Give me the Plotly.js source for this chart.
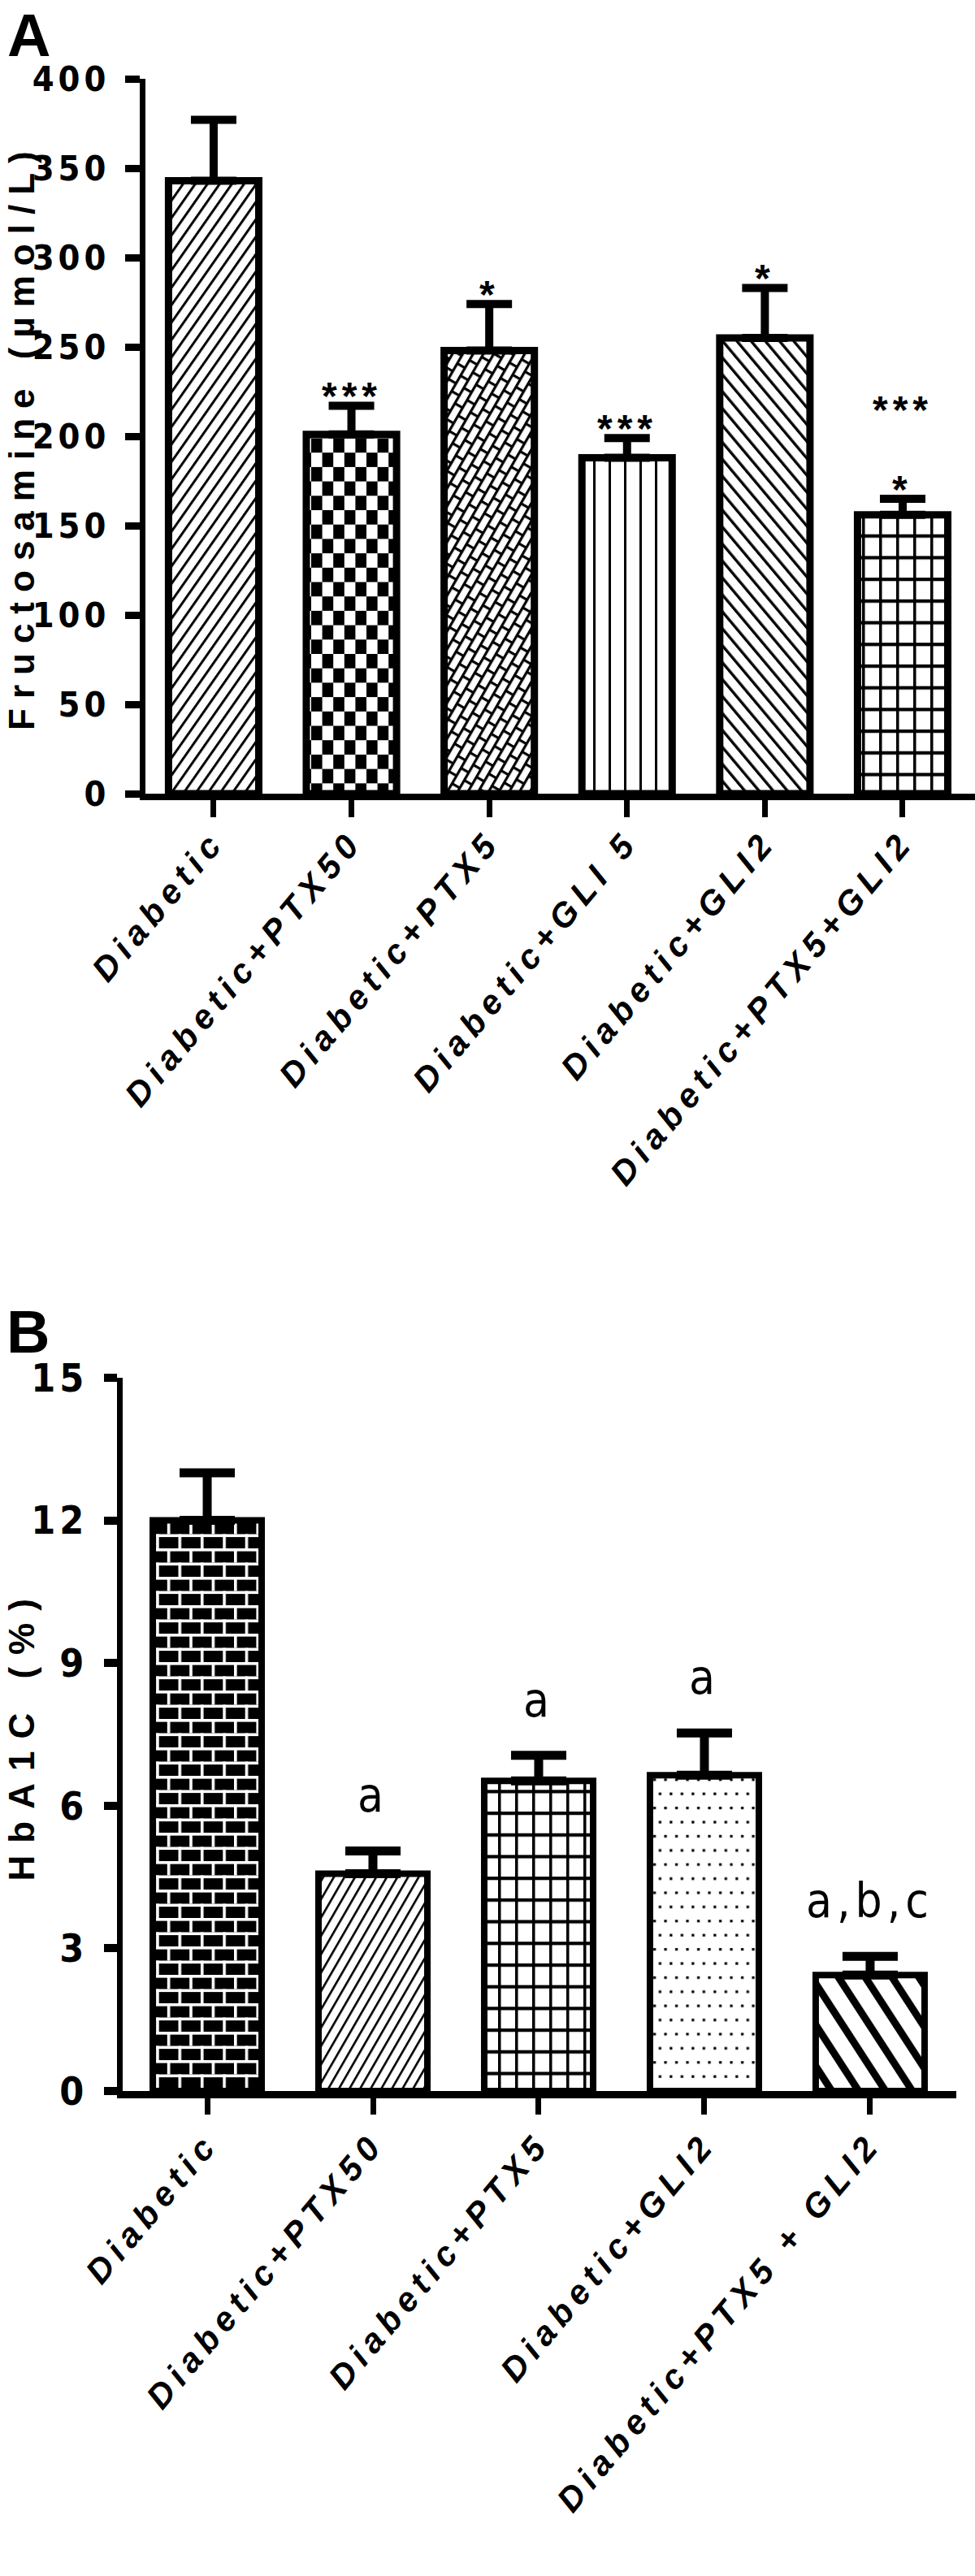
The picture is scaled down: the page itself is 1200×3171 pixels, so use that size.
<!DOCTYPE html>
<html>
<head>
<meta charset="utf-8">
<script src="https://cdn.plot.ly/plotly-3.0.1.min.js"></script>
<style>
  html, body { margin: 0; padding: 0; background: #ffffff; }
  #chart { width: 1200px; height: 3171px; }
  .ytick text, .y2tick text { letter-spacing: 5px; }
  .xtick text, .x2tick text { letter-spacing: 8px; }
  .annotation-text { letter-spacing: 6px; }
  .annotation[data-index="0"] .annotation-text { letter-spacing: 12px; }
  .annotation[data-index="1"] .annotation-text { letter-spacing: 15px; }
</style>
</head>
<body>
<svg style="position:absolute;width:0;height:0" aria-hidden="true">
  <defs>
    <pattern id="pA1" patternUnits="userSpaceOnUse" width="12.3" height="10" patternTransform="rotate(35)">
      <rect width="12.3" height="10" fill="#fff"/>
      <rect x="0" y="0" width="3" height="10" fill="#000"/>
    </pattern>
    <pattern id="pA2" patternUnits="userSpaceOnUse" width="27.2" height="35.4">
      <rect width="27.2" height="35.4" fill="#fff"/>
      <rect x="0" y="0" width="13.6" height="17.7" fill="#000"/>
      <rect x="13.6" y="17.7" width="13.6" height="17.7" fill="#000"/>
    </pattern>
    <pattern id="pA3" patternUnits="userSpaceOnUse" width="22" height="22" patternTransform="rotate(30)">
      <rect width="22" height="22" fill="#fff"/>
      <rect x="0" y="0" width="3.2" height="22" fill="#000"/>
      <rect x="11" y="0" width="3.2" height="22" fill="#000"/>
      <rect x="0" y="0" width="11" height="3.2" fill="#000"/>
      <rect x="11" y="11" width="11" height="3.2" fill="#000"/>
    </pattern>
    <pattern id="pA4" patternUnits="userSpaceOnUse" width="19" height="10">
      <rect width="19" height="10" fill="#fff"/>
      <rect x="0" y="0" width="3" height="10" fill="#000"/>
    </pattern>
    <pattern id="pA5" patternUnits="userSpaceOnUse" width="13.4" height="10" patternTransform="rotate(-40)">
      <rect width="13.4" height="10" fill="#fff"/>
      <rect x="0" y="0" width="3.4" height="10" fill="#000"/>
    </pattern>
    <pattern id="pGrid" patternUnits="userSpaceOnUse" width="21" height="26.7">
      <rect width="21" height="26.7" fill="#fff"/>
      <rect x="0" y="0" width="3.5" height="26.7" fill="#000"/>
      <rect x="0" y="0" width="21" height="4.2" fill="#000"/>
    </pattern>
    <pattern id="pB1" patternUnits="userSpaceOnUse" width="27.4" height="35">
      <rect width="27.4" height="35" fill="#000"/>
      <rect x="0" y="0" width="27.4" height="3.6" fill="#fff"/>
      <rect x="0" y="17.5" width="27.4" height="3.6" fill="#fff"/>
      <rect x="0" y="0" width="3.6" height="17.5" fill="#fff"/>
      <rect x="13.7" y="17.5" width="3.6" height="17.5" fill="#fff"/>
    </pattern>
    <pattern id="pB2" patternUnits="userSpaceOnUse" width="11.3" height="10" patternTransform="rotate(30)">
      <rect width="11.3" height="10" fill="#fff"/>
      <rect x="0" y="0" width="2.6" height="10" fill="#000"/>
    </pattern>
    <pattern id="pB4" patternUnits="userSpaceOnUse" width="13.5" height="34.8">
      <rect width="13.5" height="34.8" fill="#fff"/>
      <rect x="5" y="6" width="3.2" height="3.2" fill="#000"/>
      <rect x="11.75" y="23.4" width="3.2" height="3.2" fill="#000"/>
      <rect x="-1.75" y="23.4" width="3.2" height="3.2" fill="#000"/>
    </pattern>
    <pattern id="pB5" patternUnits="userSpaceOnUse" width="27.7" height="10" patternTransform="rotate(-33)">
      <rect width="27.7" height="10" fill="#fff"/>
      <rect x="0" y="0" width="9" height="10" fill="#000"/>
    </pattern>
  </defs>
</svg>
<div id="chart"></div>
<script>
// ---------- Panel A data ----------
const categoriesA = ['Diabetic', 'Diabetic+PTX50', 'Diabetic+PTX5', 'Diabetic+GLI 5', 'Diabetic+GLI2', 'Diabetic+PTX5+GLI2'];
const fructosamine = [343, 201, 248, 188, 255, 156];
const fructosamineSEM = [34, 16, 26, 11, 28, 9];
const sigA = ['', '***', '*', '***', '*', '*'];
const sigAUpper = ['', '', '', '', '', '***'];
const yTicksA = [0, 50, 100, 150, 200, 250, 300, 350, 400];
const titleA = 'Fructosamine (µmol/L)';

// ---------- Panel B data ----------
const categoriesB = ['Diabetic', 'Diabetic+PTX50', 'Diabetic+PTX5', 'Diabetic+GLI2', 'Diabetic+PTX5 + GLI2'];
const hba1c = [12.0, 4.57, 6.52, 6.64, 2.44];
const hba1cSEM = [1.0, 0.48, 0.54, 0.89, 0.39];
const sigB = ['', 'a', 'a', 'a', 'a,b,c'];
const yTicksB = [0, 3, 6, 9, 12, 15];
const titleB = 'HbA1C (%)';

// ---------- fills ----------
const fillsA = ['pA1', 'pA2', 'pA3', 'pA4', 'pA5', 'pGrid'];
const fillsB = ['pB1', 'pB2', 'pGrid', 'pB4', 'pB5'];
const fallbackA = ['/', '+', 'x', '|', '\\', '+'];
const fallbackB = ['-', '/', '+', '.', '\\'];

const NARROW = 'Liberation Sans Narrow, Arial Narrow, DejaVu Sans Condensed, Liberation Sans, sans-serif';
const SANS = 'Liberation Sans, Arial, Helvetica, sans-serif';
const H = 3171, W = 1200;

const domYA = [1 - 977 / H, 1 - 97 / H];
const domYB = [1 - 2574 / H, 1 - 1696 / H];

const traceA = {
  type: 'bar', x: categoriesA, y: fructosamine, xaxis: 'x', yaxis: 'y',
  width: 0.655,
  marker: {
    color: '#ffffff',
    line: { color: '#000000', width: 9 },
    pattern: { shape: fallbackA, fgcolor: '#000000', bgcolor: '#ffffff', size: 14, solidity: 0.25 }
  },
  error_y: { type: 'data', symmetric: false, array: fructosamineSEM, arrayminus: fructosamine.map(() => 0),
             color: '#000000', thickness: 10, width: 28 },
  hoverinfo: 'skip'
};
const traceB = {
  type: 'bar', x: categoriesB, y: hba1c, xaxis: 'x2', yaxis: 'y2',
  width: 0.657,
  marker: {
    color: '#ffffff',
    line: { color: '#000000', width: 8 },
    pattern: { shape: fallbackB, fgcolor: '#000000', bgcolor: '#ffffff', size: 14, solidity: 0.25 }
  },
  error_y: { type: 'data', symmetric: false, array: hba1cSEM, arrayminus: hba1c.map(() => 0),
             color: '#000000', thickness: 11, width: 34 },
  hoverinfo: 'skip'
};

const annotations = [];
// axis titles (index 0 and 1)
annotations.push({ xref: 'paper', yref: 'paper', x: 26 / W, y: (domYA[0] + domYA[1]) / 2,
  xanchor: 'center', yanchor: 'middle', textangle: -90, showarrow: false, borderpad: 0,
  text: titleA, font: { family: SANS, size: 44, color: '#000', weight: 'bold' } });
annotations.push({ xref: 'paper', yref: 'paper', x: 26 / W, y: (domYB[0] + domYB[1]) / 2,
  xanchor: 'center', yanchor: 'middle', textangle: -90, showarrow: false, borderpad: 0,
  text: titleB, font: { family: SANS, size: 44, color: '#000', weight: 'bold' } });

categoriesA.forEach((c, i) => {
  if (sigA[i]) annotations.push({ xref: 'x', yref: 'y', x: c, y: fructosamine[i] + fructosamineSEM[i],
    text: sigA[i], showarrow: false, yanchor: 'middle', yshift: 12,
    font: { family: SANS, size: 48, color: '#000', weight: 'bold' } });
  if (sigAUpper[i]) annotations.push({ xref: 'x', yref: 'y', x: c, y: fructosamine[i] + fructosamineSEM[i],
    text: sigAUpper[i], showarrow: false, yanchor: 'middle', yshift: 110,
    font: { family: SANS, size: 48, color: '#000', weight: 'bold' } });
});
categoriesB.forEach((c, i) => {
  if (sigB[i]) annotations.push({ xref: 'x2', yref: 'y2', x: c, y: hba1c[i] + hba1cSEM[i],
    text: sigB[i], showarrow: false, yanchor: 'middle', yshift: 68,
    font: { family: NARROW, size: 58, color: '#000' } });
});
annotations.push({ xref: 'paper', yref: 'paper', x: 0.006, y: 1, xanchor: 'left', yanchor: 'top',
  text: 'A', showarrow: false, font: { family: SANS, size: 74, color: '#000', weight: 'bold' } });
annotations.push({ xref: 'paper', yref: 'paper', x: 0.005, y: 1 - 1639 / H, xanchor: 'left', yanchor: 'middle',
  text: 'B', showarrow: false, font: { family: SANS, size: 74, color: '#000', weight: 'bold' } });

const xCommon = {
  type: 'category', showgrid: false, zeroline: false, showline: true, linecolor: '#000',
  ticks: 'outside', tickcolor: '#000', tickangle: -50,
  tickfont: { family: SANS, size: 42, color: '#000', weight: 'bold', style: 'italic' },
  automargin: false, fixedrange: true
};
const yCommon = {
  showgrid: false, zeroline: false, showline: true, linecolor: '#000',
  ticks: 'outside', tickcolor: '#000', tickmode: 'array', automargin: false, fixedrange: true
};

const layout = {
  width: W, height: H, margin: { l: 0, r: 0, t: 0, b: 0, pad: 0 },
  paper_bgcolor: '#ffffff', plot_bgcolor: '#ffffff', showlegend: false,
  xaxis: Object.assign({}, xCommon, { domain: [179 / W, 1.0], anchor: 'y', range: [-0.495, 5.525],
    linewidth: 8, ticklen: 21, tickwidth: 7, ticklabelstandoff: -12 }),
  yaxis: Object.assign({}, yCommon, { domain: domYA, anchor: 'x', range: [0, 400],
    tickvals: yTicksA, ticktext: yTicksA.map(String), linewidth: 7, ticklen: 18, tickwidth: 9,
    ticklabelstandoff: 10,
    tickfont: { family: NARROW, size: 43, color: '#000', weight: 'bold' } }),
  xaxis2: Object.assign({}, xCommon, { domain: [151 / W, 1177 / W], anchor: 'y2', range: [-0.51, 4.52],
    linewidth: 9, ticklen: 20, tickwidth: 7, ticklabelstandoff: -6 }),
  yaxis2: Object.assign({}, yCommon, { domain: domYB, anchor: 'x2', range: [0, 15],
    tickvals: yTicksB, ticktext: yTicksB.map(String), linewidth: 7, ticklen: 16, tickwidth: 10,
    ticklabelstandoff: 10,
    tickfont: { family: NARROW, size: 48, color: '#000', weight: 'bold' } }),
  annotations: annotations
};

Plotly.newPlot('chart', [traceA, traceB], layout, { staticPlot: true, displayModeBar: false }).then(gd => {
  gd.querySelectorAll('.subplot.xy .barlayer .point path').forEach((p, i) => {
    if (fillsA[i]) p.style.fill = 'url(#' + fillsA[i] + ')';
  });
  gd.querySelectorAll('.subplot.x2y2 .barlayer .point path').forEach((p, i) => {
    if (fillsB[i]) p.style.fill = 'url(#' + fillsB[i] + ')';
  });
});
</script>
</body>
</html>
